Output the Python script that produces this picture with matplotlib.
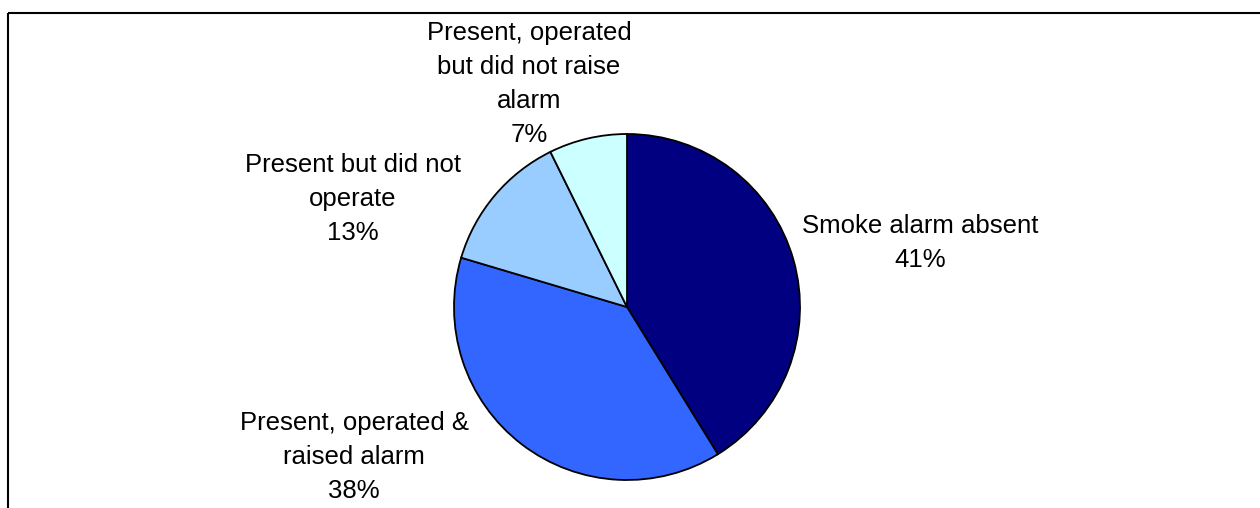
import matplotlib
matplotlib.use("Agg")
import matplotlib.pyplot as plt

categories = ["Smoke alarm absent", "Present, operated &\nraised alarm",
              "Present but did not\noperate", "Present, operated\nbut did not raise\nalarm"]
values = [41.2, 38.4, 13.1, 7.3]
colors = ["#000080", "#3366FF", "#99CCFF", "#CCFFFF"]

W, H = 1260, 508
fig = plt.figure(figsize=(W / 100, H / 100), dpi=100)
ax = fig.add_axes([0, 0, 1, 1])

cx, cy, r = 627, H - 307, 173
ax.pie(values, colors=colors, startangle=90, counterclock=False,
       center=(cx, cy), radius=r, frame=True,
       wedgeprops=dict(edgecolor="black", linewidth=1.3))
ax.set_xlim(0, W)
ax.set_ylim(0, H)
ax.set_aspect("equal")
ax.axis("off")

label_pos = [(920, H - 243), (354, H - 457), (353, H - 199), (529, H - 84)]
total = sum(values)
for cat, v, (tx, ty) in zip(categories, values, label_pos):
    ax.text(tx, ty, f"{cat}\n{v / total * 100:.0f}%", ha="center", va="center",
            fontsize=18.5, family="Liberation Sans", linespacing=1.52, color="black")

# frame lines (top and left)
ax.plot([8, W], [H - 12.5, H - 12.5], color="black", lw=1.5, solid_capstyle="butt")
ax.plot([8, 8], [H - 12.5, 0], color="black", lw=1.5, solid_capstyle="butt")

fig.savefig("out.png", dpi=100)
